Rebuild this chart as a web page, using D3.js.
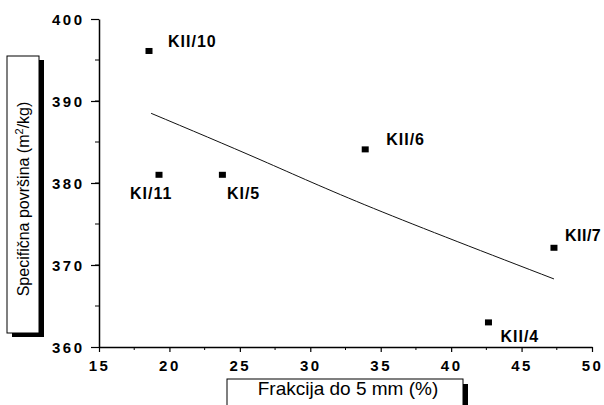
<!DOCTYPE html>
<html>
<meta charset="utf-8">
<head>
	<title>specificna povrsina</title>
	<script src="https://cdn.jsdelivr.net/npm/d3@7/dist/d3.min.js" charset="utf-8"></script>
	<style>
		body { margin: 0; background: #fff; }
		text { font-family: Arial, "Liberation Sans", sans-serif; fill: #000; }
	</style>
</head>
<body>
	<script type="text/javascript">
		// samples: frakcija do 5 mm (%) vs specificna povrsina (m2/kg)
		var names = ['KII/10', 'KI/11', 'KI/5', 'KII/6', 'KII/7', 'KII/4'];
		var frakcija = [18.55, 19.26, 23.76, 33.9, 47.3, 42.65];
		var povrsina = [396.1, 381.0, 381.0, 384.1, 372.1, 363.0];

		// trend line
		var trendX = [18.7, 26.5, 34.5, 47.3];
		var trendY = [388.5, 382.8, 376.9, 368.3];

		var xTicks = [15, 20, 25, 30, 35, 40, 45, 50];
		var yTicks = [360, 370, 380, 390, 400];

		// label offsets from the marker (px)
		var labelOff = {
			'KII/10': [19, -4], 'KI/11': [-29, 24], 'KI/5': [4.5, 24],
			'KII/6': [21, -4], 'KII/7': [11, -7], 'KII/4': [12, 20]
		};

		var width = 604, height = 405;
		var svg = d3.select('body').append('svg')
			.attr('width', width)
			.attr('height', height);

		var x = d3.scaleLinear().domain([15, 50]).range([99, 592]);
		var y = d3.scaleLinear().domain([360, 400]).range([347, 19]);

		// minor ticks
		var xMinor = d3.range(17.5, 50, 5), yMinor = d3.range(365, 400, 5);

		var xAxis = svg.append('g').attr('transform', 'translate(0,347)');
		xAxis.call(d3.axisBottom(x).tickValues(xTicks).tickSize(5).tickSizeOuter(0).tickFormat(d3.format('d')));
		xAxis.selectAll('.minor').data(xMinor).enter().append('line')
			.attr('x1', d => x(d)).attr('x2', d => x(d)).attr('y1', 0).attr('y2', 3)
			.attr('stroke', '#000');

		var yAxis = svg.append('g').attr('transform', 'translate(99,0)');
		yAxis.call(d3.axisLeft(y).tickValues(yTicks).tickSize(8).tickSizeOuter(0).tickFormat(d3.format('d')));
		yAxis.selectAll('.minor').data(yMinor).enter().append('line')
			.attr('x1', 0).attr('x2', -4).attr('y1', d => y(d)).attr('y2', d => y(d))
			.attr('stroke', '#000');

		svg.selectAll('.domain').attr('stroke', '#000').attr('stroke-width', 1.5);
		svg.selectAll('.tick line').attr('stroke', '#000').attr('stroke-width', 1.2);
		svg.selectAll('.tick text')
			.style('font-size', '15px').style('font-weight', 'bold')
			.style('letter-spacing', '2.5px').attr('fill', '#000');
		xAxis.selectAll('.tick text').attr('y', 24).attr('dy', null);
		yAxis.selectAll('.tick text').attr('x', -14.5).attr('dy', '0.36em');

		// trend line
		var line = d3.line().x(d => x(d[0])).y(d => y(d[1])).curve(d3.curveNatural);
		svg.append('path')
			.datum(d3.zip(trendX, trendY))
			.attr('d', line)
			.attr('fill', 'none').attr('stroke', '#111').attr('stroke-width', 1);

		// points
		var pts = names.map((n, i) => ({name: n, fx: frakcija[i], py: povrsina[i]}));
		svg.selectAll('.pt').data(pts).enter().append('rect')
			.attr('x', d => x(d.fx) - 3.5).attr('y', d => y(d.py) - 3)
			.attr('width', 7).attr('height', 6).attr('fill', '#000');
		svg.selectAll('.lbl').data(pts).enter().append('text')
			.attr('x', d => x(d.fx) + labelOff[d.name][0])
			.attr('y', d => y(d.py) + labelOff[d.name][1])
			.style('font-size', '16px').style('font-weight', 'bold')
			.style('letter-spacing', d => d.name == 'KII/7' ? '0.5px' : '1px')
			.text(d => d.name);

		// y axis title box with shadow
		svg.append('rect').attr('x', 12).attr('y', 60).attr('width', 32).attr('height', 277).attr('fill', '#000');
		svg.append('rect').attr('x', 7).attr('y', 56).attr('width', 32).attr('height', 277)
			.attr('fill', '#fff').attr('stroke', '#000').attr('stroke-width', 1);
		var yt = svg.append('text').attr('transform', 'translate(29,199) rotate(-90)')
			.attr('text-anchor', 'middle').style('font-size', '16px');
		yt.append('tspan').text('Specifična površina (m');
		yt.append('tspan').attr('baseline-shift', 'super').style('font-size', '11px').text('2');
		yt.append('tspan').text('/kg)');

		// x axis title box with shadow
		svg.append('rect').attr('x', 232).attr('y', 384).attr('width', 236).attr('height', 30).attr('fill', '#000');
		svg.append('rect').attr('x', 227).attr('y', 379).attr('width', 236).attr('height', 30)
			.attr('fill', '#fff').attr('stroke', '#000').attr('stroke-width', 1);
		svg.append('text').attr('x', 348).attr('y', 395).attr('text-anchor', 'middle')
			.style('font-size', '19px').text('Frakcija do 5 mm (%)');
	</script>
</body>
</html>
